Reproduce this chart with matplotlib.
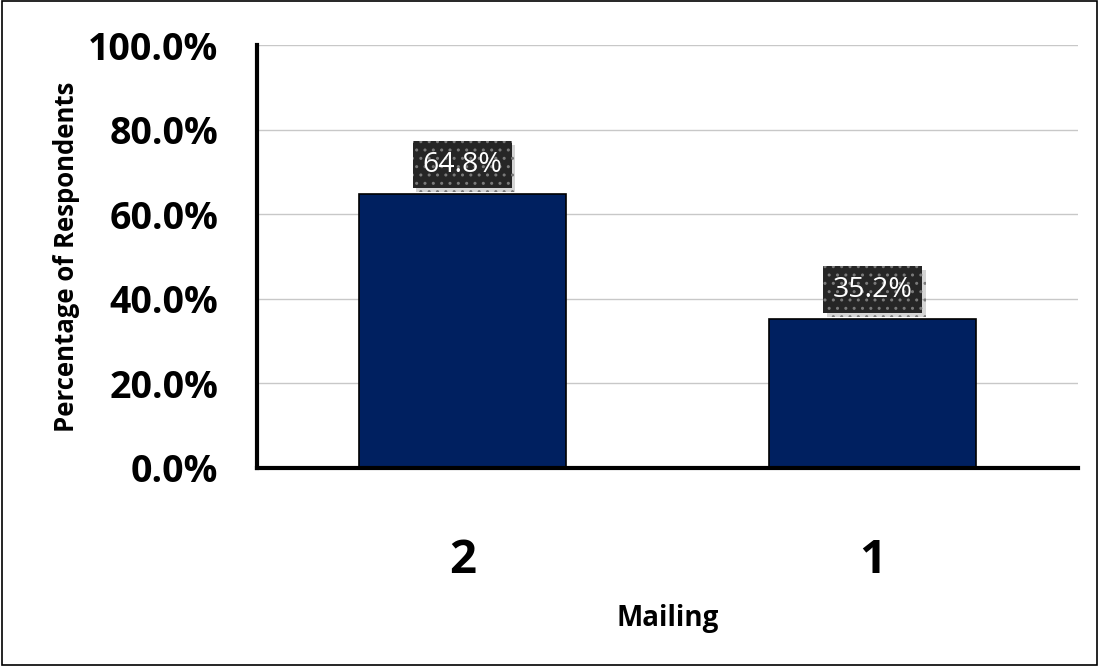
import matplotlib.pyplot as plt
import matplotlib.patheffects as pe
from matplotlib.patches import Rectangle
from matplotlib.ticker import FuncFormatter

# data
mailings = ['2', '1']
pct = [64.8, 35.2]
yticks = [0, 20, 40, 60, 80, 100]

plt.rcParams['font.family'] = ['Open Sans', 'DejaVu Sans']

fig = plt.figure(figsize=(10.99, 6.66), dpi=100)
ax = fig.add_axes([0.2339, 0.2973, 0.747, 0.635])

x = range(len(mailings))
ax.bar(x, pct, width=0.504, color='#002060', edgecolor='black', linewidth=1.2, zorder=3)

ax.set_xlim(-0.5, 1.5)
ax.set_ylim(0, 100)
ax.set_yticks(yticks)
ax.yaxis.set_major_formatter(FuncFormatter(lambda v, p: f'{v:.1f}%'))
ax.set_xticks(list(x))
ax.set_xticklabels(mailings, fontsize=34, fontweight='bold')
ax.tick_params(axis='y', labelsize=27, length=0, pad=28)
ax.tick_params(axis='x', length=0, pad=50)
for lab in ax.get_yticklabels():
    lab.set_fontweight('bold')

ax.grid(axis='y', color='#c8c8c8', linewidth=1, zorder=0)
for s in ['top', 'right']:
    ax.spines[s].set_visible(False)
ax.spines['left'].set_linewidth(3)
ax.spines['bottom'].set_linewidth(3)
ax.spines['left'].set_zorder(4)
ax.spines['bottom'].set_zorder(4)

ax.set_ylabel('Percentage of Respondents', fontsize=18.5, fontweight='bold', labelpad=6)
ax.set_xlabel('Mailing', fontsize=20, fontweight='bold', labelpad=14)

for xi, v in zip(x, pct):
    t = ax.annotate(f'{v:.1f}%', (xi, v), xytext=(0, 11), textcoords='offset points',
                    ha='center', va='bottom', color='white', fontsize=20.5, zorder=5,
                    bbox=dict(boxstyle='square,pad=0.33', facecolor='#262626',
                              edgecolor='#7a7a7a', linewidth=0, hatch='..'))
    t.get_bbox_patch().set_path_effects([
        pe.SimplePatchShadow(offset=(2.5, -2.5), shadow_rgbFace='#888888', alpha=0.35),
        pe.Normal()])

fig.patches.append(Rectangle((0.002, 0.002), 0.996, 0.996, transform=fig.transFigure,
                             fill=False, edgecolor='black', linewidth=1.2))

fig.savefig('out.png', dpi=100)
